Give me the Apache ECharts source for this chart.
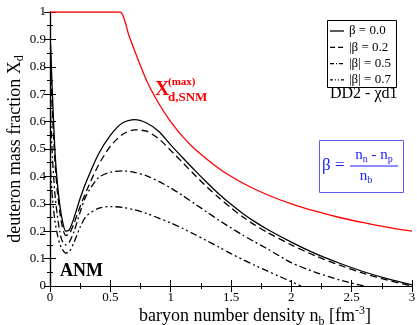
<!DOCTYPE html>
<html><head><meta charset="utf-8">
<script src="https://cdn.jsdelivr.net/npm/echarts@6/dist/echarts.min.js"></script>
<style>html,body{margin:0;padding:0;background:#fff}#c{width:417px;height:325px}</style>
</head><body><div id="c"></div>
<script>
// ---- data ----
const nbSolid = [0.005,0.02,0.04,0.06,0.08,0.10,0.13,0.16,0.2,0.25,0.3,0.4,0.5,0.6,0.7,0.8,0.9,1.0,1.1,1.2,1.3,1.4,1.5,1.6,1.7,1.8,2.0,2.2,2.4,2.6,2.8,3.0];
const xdSolid = [0.88,0.70,0.50,0.38,0.30,0.245,0.20,0.205,0.25,0.32,0.38,0.48,0.55,0.595,0.607,0.595,0.565,0.515,0.468,0.422,0.378,0.336,0.298,0.264,0.234,0.207,0.16,0.118,0.083,0.052,0.026,0.004];
const nbDash = [0.005,0.02,0.04,0.06,0.08,0.10,0.13,0.16,0.2,0.25,0.3,0.4,0.5,0.6,0.7,0.8,0.9,1.0,1.1,1.2,1.3,1.4,1.5,1.6,1.7,1.8,2.0,2.2,2.4,2.6,2.8,3.0];
const xdDash = [0.80,0.63,0.46,0.35,0.275,0.22,0.185,0.19,0.23,0.29,0.345,0.44,0.51,0.553,0.57,0.565,0.538,0.495,0.45,0.405,0.362,0.322,0.285,0.252,0.222,0.196,0.15,0.11,0.076,0.046,0.021,0.0];
const nbDashDot = [0.005,0.02,0.04,0.06,0.08,0.10,0.13,0.16,0.2,0.25,0.3,0.4,0.5,0.6,0.7,0.8,0.9,1.0,1.1,1.2,1.3,1.4,1.5,1.6,1.7,1.8,2.0,2.2,2.4,2.6];
const xdDashDot = [0.62,0.47,0.34,0.26,0.20,0.165,0.15,0.16,0.20,0.27,0.33,0.395,0.415,0.42,0.415,0.402,0.382,0.358,0.33,0.30,0.27,0.24,0.212,0.185,0.16,0.136,0.085,0.05,0.022,0.0];
const nbDashDotDot = [0.005,0.02,0.04,0.06,0.08,0.10,0.13,0.16,0.2,0.25,0.3,0.4,0.5,0.6,0.7,0.8,0.9,1.0,1.1,1.2,1.3,1.4,1.5,1.6,1.7,1.8,1.9,2.0,2.08];
const xdDashDotDot = [0.42,0.32,0.24,0.19,0.155,0.135,0.12,0.125,0.16,0.215,0.255,0.283,0.29,0.287,0.278,0.265,0.248,0.23,0.21,0.188,0.165,0.142,0.118,0.096,0.075,0.055,0.035,0.016,0.0];
const nbMax = [0,0.58,0.65,0.7,0.8,0.9,1.0,1.1,1.2,1.4,1.6,1.8,2.0,2.2,2.4,2.6,2.8,3.0];
const xdMax = [1,1,0.92,0.86,0.75,0.667,0.6,0.545,0.5,0.429,0.375,0.333,0.3,0.273,0.25,0.231,0.214,0.2];
const seriesNames = ['β = 0.0','|β = 0.2','|β| = 0.5','|β| = 0.7'];
const xTickLabels = ['0','0.5','1','1.5','2','2.5','3'];

const zip = (a,b) => a.map((v,i)=>[v,b[i]]);
const F = '"Liberation Serif","DejaVu Serif",serif';
const chart = echarts.init(document.getElementById('c'), null, {renderer:'canvas'});

const axisCommon = {
  axisLine:{show:true,lineStyle:{color:'#000',width:1.2}},
  axisTick:{show:true,inside:true,length:6,lineStyle:{color:'#000',width:1}},
  minorTick:{show:true,splitNumber:2,length:3,lineStyle:{color:'#000',width:1}},
  splitLine:{show:false}
};
const dashes = ['solid',[7,4],[7,3,2,3],[7,3,2,3,2,3]];
const legendDashes = [null,[5,3],[4,2,1,2],[3,2,1,2,1,2]];
function line(name,x,y,dash,color){
  return {name, type:'line', data:zip(x,y), showSymbol:false, symbol:'none', smooth:0.25,
    lineStyle:{color:color||'#000', width:1.3, type:dash}, itemStyle:{color:color||'#000'}, z:3, silent:true};
}
// hand-built legend box (line samples + labels)
const legendGraphics = [{type:'rect',left:327,top:20,shape:{width:69,height:67},style:{fill:'#fff',stroke:'#000',lineWidth:1},z:10}];
seriesNames.forEach((n,i)=>{
  const y = 31 + i*16.3;
  legendGraphics.push({type:'line',shape:{x1:330,y1:y,x2:344,y2:y},style:{stroke:'#000',lineWidth:1.3,lineDash:legendDashes[i]},z:11});
  legendGraphics.push({type:'text',x:349,y:y,style:{text:n,font:'13px '+F,fill:'#000',verticalAlign:'middle'},z:11});
});

chart.setOption({
  animation:false,
  backgroundColor:'#fff',
  grid:{left:50,right:5,top:12,bottom:39,containLabel:false,outerBoundsMode:'none'},
  xAxis:[
    Object.assign({type:'value',min:0,max:3,interval:0.5,position:'bottom',
      axisLabel:{color:'#000',fontFamily:F,fontSize:13,margin:5,formatter:(v)=>xTickLabels[Math.round(v*2)]},
      name:'{a|baryon number density n}{s|b}{a| [fm}{p|-3}{a|]}',
      nameLocation:'middle', nameGap:19, nameMoveOverlap:false,
      nameTextStyle:{padding:[0,0,0,48],rich:{
        a:{fontFamily:F,fontSize:18,color:'#000'},
        s:{fontFamily:F,fontSize:12,color:'#000',padding:[10,0,0,0]},
        p:{fontFamily:F,fontSize:12,color:'#000',padding:[0,0,11,0]}}}
    },axisCommon),
    Object.assign({type:'value',min:0,max:3,interval:0.5,position:'top',axisLabel:{show:false}},axisCommon)
  ],
  yAxis:[
    Object.assign({type:'value',min:0,max:1,interval:0.1,position:'left',
      axisLabel:{color:'#000',fontFamily:F,fontSize:13,margin:4,formatter:(v)=>String(Math.round(v*10)/10)},
      name:'{a|deuteron mass fraction X}{s|d}',
      nameLocation:'middle', nameGap:24, nameMoveOverlap:false,
      nameTextStyle:{rich:{
        a:{fontFamily:F,fontSize:18,color:'#000'},
        s:{fontFamily:F,fontSize:12,color:'#000',padding:[10,0,0,0]}}}
    },axisCommon),
    Object.assign({type:'value',min:0,max:1,interval:0.1,position:'right',axisLabel:{show:false}},axisCommon)
  ],
  series:[
    line(seriesNames[0],nbSolid,xdSolid,dashes[0]),
    line(seriesNames[1],nbDash,xdDash,dashes[1]),
    line(seriesNames[2],nbDashDot,xdDashDot,dashes[2]),
    line(seriesNames[3],nbDashDotDot,xdDashDotDot,dashes[3]),
    Object.assign(line('Xmax',nbMax,xdMax,'solid','#ff0000'),{smooth:0.2})
  ],
  graphic:legendGraphics.concat([
    {type:'text',left:155,top:80,style:{text:'X',font:'bold 20px '+F,fill:'#ff0000'}},
    {type:'text',left:168,top:77,style:{text:'(max)',font:'bold 11px '+F,fill:'#ff0000'}},
    {type:'text',left:168,top:91,style:{text:'d,SNM',font:'bold 13px '+F,fill:'#ff0000'}},
    {type:'text',left:60,top:262,style:{text:'ANM',font:'bold 18px '+F,fill:'#000'}},
    {type:'text',left:330,top:86,style:{text:'DD2 - χd1',font:'16px '+F,fill:'#000'}},
    {type:'rect',left:319,top:140,shape:{width:84,height:52},style:{fill:'#fff',stroke:'#5a5aff',lineWidth:1}},
    {type:'text',left:322,top:157,style:{text:'β =',font:'17px '+F,fill:'#1a1aff'}},
    {type:'line',shape:{x1:350,y1:166,x2:398,y2:166},style:{stroke:'#1a1aff',lineWidth:1}},
    {type:'text',x:374,y:155,style:{text:'{m|n}{s|n}{m| - n}{s|p}',align:'center',verticalAlign:'middle',
      rich:{m:{font:'15px '+F,fill:'#1a1aff'},s:{font:'10px '+F,fill:'#1a1aff',padding:[8,0,0,0]}}}},
    {type:'text',x:366,y:176,style:{text:'{m|n}{s|b}',align:'center',verticalAlign:'middle',
      rich:{m:{font:'15px '+F,fill:'#1a1aff'},s:{font:'10px '+F,fill:'#1a1aff',padding:[8,0,0,0]}}}}
  ])
});
</script></body></html>
